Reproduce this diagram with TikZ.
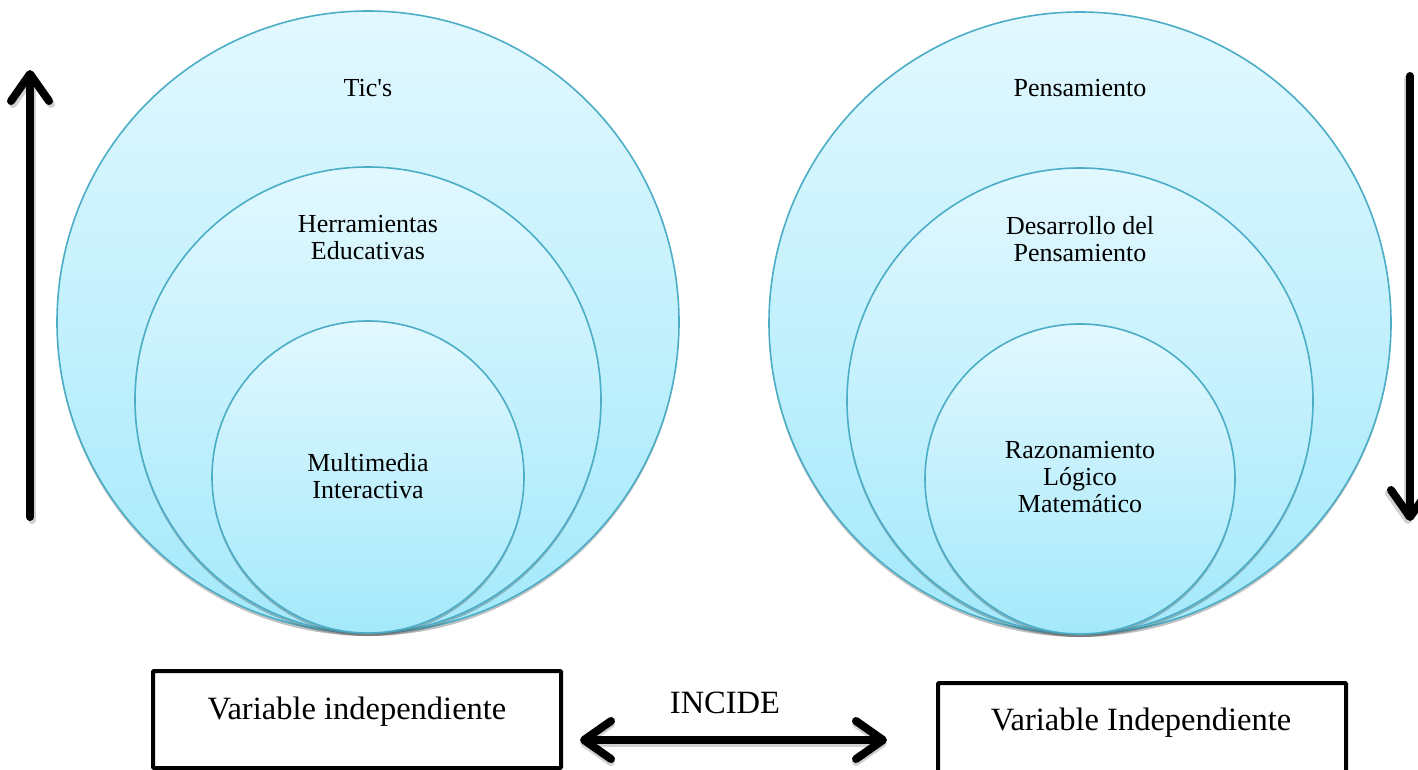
\documentclass[tikz,border=0pt]{standalone}
\usepackage{fontspec}
\setmainfont{Liberation Serif}
\usetikzlibrary{arrows.meta,shadows}

\definecolor{ringedge}{HTML}{4BADC6}
\definecolor{ringtop}{HTML}{E2F8FE}
\definecolor{ringbot}{HTML}{A4E9FB}

\tikzset{
  ring/.style={circle, inner sep=0pt, draw=ringedge, line width=1.6pt,
    top color=ringtop, bottom color=ringbot,
    drop shadow={shadow xshift=0pt, shadow yshift=-3pt, opacity=0.35, fill=black!70}},
  ringtext/.style={align=center, font=\fontsize{26}{27}\selectfont, inner sep=0pt},
  varbox/.style={draw=black, line width=4pt, rounded corners=1pt, inner sep=0pt},
  boxtext/.style={font=\fontsize{32.5}{36}\selectfont, anchor=base, inner sep=0pt},
  barb/.tip={Straight Barb[length=27pt, width=38pt, line cap=round, line join=round]},
  bigarrow/.style={line width=8pt, line cap=round, line join=round, -barb},
  twoway/.style={line width=8pt, line cap=round, line join=round, barb-barb},
  shade/.style={draw=black, opacity=0.18}
}

\begin{document}
\begin{tikzpicture}[x=1pt, y=-1pt]
  \useasboundingbox (0,0) rectangle (1418,770);

  % left set of nested circles
  \node[ring, minimum size=622pt] (lout) at (368,322) {};
  \node[ring, minimum size=466pt] (lmid) at (368,400) {};
  \node[ring, minimum size=312pt] (lin)  at (368,477) {};
  \node[ringtext] (tics) at (368,88) {Tic\textquotesingle s};
  \node[ringtext] (herr) at (368,238) {Herramientas\\Educativas};
  \node[ringtext] (mult) at (368,476) {Multimedia\\Interactiva};

  % right set of nested circles
  \node[ring, minimum size=622pt] (rout) at (1080,323) {};
  \node[ring, minimum size=466pt] (rmid) at (1080,401) {};
  \node[ring, minimum size=310pt] (rin)  at (1080,479) {};
  \node[ringtext] (pens) at (1080,88) {Pensamiento};
  \node[ringtext] (desa) at (1080,239) {Desarrollo del\\Pensamiento};
  \node[ringtext] (razo) at (1080,477) {Razonamiento\\Lógico\\Matemático};

  % vertical arrows at the sides
  \coordinate (upS) at (30,517);
  \coordinate (upE) at (30,70);
  \coordinate (dnS) at (1410,76);
  \coordinate (dnE) at (1410,521);
  \draw[bigarrow, shade] ([shift={(2,3)}]upS) -- ([shift={(2,3)}]upE);
  \draw[bigarrow] (upS) -- (upE);
  \draw[bigarrow, shade] ([shift={(-2,3)}]dnS) -- ([shift={(-2,3)}]dnE);
  \draw[bigarrow] (dnS) -- (dnE);

  % variable boxes
  \node[varbox, minimum width=408pt, minimum height=97pt] (boxL) at (357,719.5) {};
  \node[boxtext] (txtL) at (357,719) {Variable independiente};
  \node[varbox, minimum width=408pt, minimum height=96pt] (boxR) at (1142,731) {};
  \node[boxtext] (txtR) at (1141,730) {Variable Independiente};

  % two-headed arrow between the boxes
  \coordinate (dL) at (580,740);
  \coordinate (dR) at (887,740);
  \draw[twoway, shade] ([shift={(0,3)}]dL) -- ([shift={(0,3)}]dR);
  \draw[twoway] (dL) -- (dR);
  \node[boxtext] (incide) at (725,713) {INCIDE};
\end{tikzpicture}
\end{document}
